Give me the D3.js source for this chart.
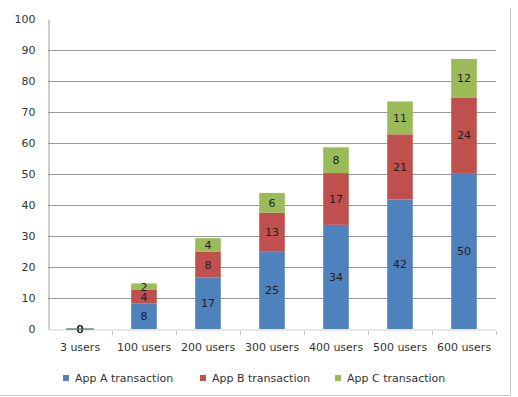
<!DOCTYPE html>
<html>
<head>
<meta charset="utf-8">
<script src="https://cdn.jsdelivr.net/npm/d3@7"></script>
<style>
  html, body { margin: 0; padding: 0; background: #fff; }
  svg { display: block; }
  text { font-family: "DejaVu Sans", Verdana, sans-serif; }
</style>
</head>
<body>
<svg id="chart" width="518" height="397"></svg>
<script>
const categories = ["3 users", "100 users", "200 users", "300 users", "400 users", "500 users", "600 users"];
const seriesNames = ["App A transaction", "App B transaction", "App C transaction"];
const appA = [0, 8.3, 16.6, 24.9, 33.6, 41.8, 50.3];
const appB = [0, 4.3, 8.3, 12.6, 16.7, 21.0, 24.4];
const appC = [0, 2.1, 4.4, 6.4, 8.3, 10.6, 12.4];
const yTicks = [0, 10, 20, 30, 40, 50, 60, 70, 80, 90, 100];
const colors = ["#4F81BD", "#C0504D", "#9BBB59"];

const svg = d3.select("#chart");
const plotL = 48, plotR = 496, plotT = 19, plotB = 329;

const x = d3.scaleBand().domain(categories).range([plotL, plotR]).paddingInner(0.6).paddingOuter(0.3);
const y = d3.scaleLinear().domain([0, 100]).range([plotB, plotT]);

// frame (right and bottom edges visible)
svg.append("path")
  .attr("d", "M510.5,8 V395.5 H0")
  .attr("fill", "none").attr("stroke", "#c8c8c8").attr("stroke-width", 1);

// gridlines
svg.append("g").selectAll("line").data(yTicks.filter(d => d > 0 && d < 100)).join("line")
  .attr("x1", plotL).attr("x2", plotR)
  .attr("y1", d => Math.round(y(d)) + 0.5).attr("y2", d => Math.round(y(d)) + 0.5)
  .attr("stroke", "#9a9a9a").attr("stroke-width", 1);

// y axis
const yAxis = d3.axisLeft(y).tickValues(yTicks).tickSize(0).tickPadding(13);
const gy = svg.append("g").attr("transform", `translate(${plotL + 0.5},0)`).call(yAxis);
gy.select(".domain").attr("stroke", "#9a9a9a");
gy.selectAll("text").attr("font-size", 11).attr("fill", "#333")
  .attr("font-family", "'DejaVu Sans', sans-serif");

// x axis
const xAxis = d3.axisBottom(x).tickSize(0).tickPadding(14);
const gx = svg.append("g").attr("transform", `translate(0,${plotB + 0.5})`).call(xAxis);
gx.select(".domain").attr("stroke", "#d0d0d0");
gx.selectAll("text").attr("font-size", 11).attr("fill", "#333")
  .attr("font-family", "'DejaVu Sans', sans-serif");
// tick marks at category boundaries
const boundaries = d3.range(categories.length + 1).map(i => plotL + i * (plotR - plotL) / categories.length);
svg.append("g").selectAll("line").data(boundaries.slice(1)).join("line")
  .attr("x1", d => Math.round(d) + 0.5).attr("x2", d => Math.round(d) + 0.5)
  .attr("y1", plotB + 2).attr("y2", plotB + 6)
  .attr("stroke", "#c0c0c0");

// stacked data
const rows = categories.map((c, i) => ({ cat: c, A: appA[i], B: appB[i], C: appC[i] }));
const stack = d3.stack().keys(["A", "B", "C"])(rows);

const layers = svg.append("g").selectAll("g").data(stack).join("g")
  .attr("fill", (d, i) => colors[i]);
layers.selectAll("rect").data(d => d).join("rect")
  .attr("x", d => x(d.data.cat))
  .attr("width", x.bandwidth())
  .attr("y", d => y(d[1]))
  .attr("height", d => Math.max(0, y(d[0]) - y(d[1])));

// zero-height bar outline
rows.forEach(r => {
  if (r.A + r.B + r.C === 0) {
    svg.append("line")
      .attr("x1", x(r.cat) - 1).attr("x2", x(r.cat) + x.bandwidth() + 1)
      .attr("y1", y(0)).attr("y2", y(0))
      .attr("stroke", "#4f7868").attr("stroke-width", 1.3);
  }
});

// data labels
layers.each(function(layer, li) {
  d3.select(this).selectAll("text").data(layer).join("text")
    .attr("x", d => x(d.data.cat) + x.bandwidth() / 2)
    .attr("y", d => (y(d[0]) + y(d[1])) / 2)
    .attr("dy", "0.36em")
    .attr("text-anchor", "middle")
    .attr("font-size", 11)
    .attr("fill", "#1e1e1e")
    .text(d => Math.round(d[1] - d[0]));
});

// legend
const legendX = [63, 200, 335];
const lg = svg.append("g").selectAll("g").data(seriesNames).join("g")
  .attr("transform", (d, i) => `translate(${legendX[i]},378)`);
lg.append("rect").attr("x", 0).attr("y", -3).attr("width", 6).attr("height", 6)
  .attr("fill", (d, i) => colors[i]);
lg.append("text").attr("x", 12).attr("y", 0).attr("dy", "0.36em")
  .attr("font-size", 11).attr("fill", "#333").text(d => d);
</script>
</body>
</html>
